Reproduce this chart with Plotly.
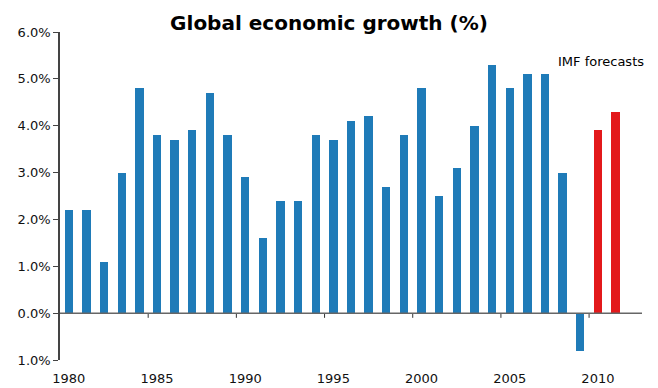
import plotly.graph_objects as go

years = list(range(1980, 2012))
growth = [2.2, 2.2, 1.1, 3.0, 4.8, 3.8, 3.7, 3.9, 4.7, 3.8,
          2.9, 1.6, 2.4, 2.4, 3.8, 3.7, 4.1, 4.2, 2.7, 3.8,
          4.8, 2.5, 3.1, 4.0, 5.3, 4.8, 5.1, 5.1, 3.0, -0.8,
          3.9, 4.3]
forecast_years = [2010, 2011]
y_ticks = [-1, 0, 1, 2, 3, 4, 5, 6]
y_ticktext = ["1.0%", "0.0%", "1.0%", "2.0%", "3.0%", "4.0%", "5.0%", "6.0%"]
x_ticks = [1980, 1985, 1990, 1995, 2000, 2005, 2010]
tick_bounds = [1984.5, 1989.5, 1994.5, 1999.5, 2004.5, 2009.5]

BLUE = "#1f7bb8"
RED = "#e3191b"
colors = [RED if y in forecast_years else BLUE for y in years]

fig = go.Figure(go.Bar(x=years, y=growth, marker_color=colors, width=0.47,
                       marker_line_width=0))

shapes = [dict(type="line", xref="x", yref="y", x0=b, x1=b, y0=0, y1=-0.1,
               line=dict(color="#333", width=1)) for b in tick_bounds]
shapes.append(dict(type="line", xref="paper", yref="y", x0=0, x1=1, y0=0, y1=0,
                   line=dict(color="#666", width=1.5), layer="above"))
fig.update_layout(
    width=658, height=388,
    margin=dict(l=60, r=16, t=32, b=28, autoexpand=False),
    plot_bgcolor="white", paper_bgcolor="white",
    font=dict(family="DejaVu Sans", size=13, color="#111"),
    title=dict(text="<b>Global economic growth (%)</b>", x=0.5, xanchor="center",
               y=0.94, yanchor="middle", font=dict(size=20, color="#000")),
    showlegend=False,
    bargap=0,
    shapes=shapes,
    annotations=[dict(text="IMF forecasts", x=2010.2, y=5.36, xref="x", yref="y",
                      showarrow=False, font=dict(size=13, color="#000"))],
    xaxis=dict(range=[1979.5, 2012.5], tickvals=x_ticks, showline=False,
               showgrid=False, zeroline=False, ticks="", ticklabelstandoff=9,
               automargin=False),
    yaxis=dict(range=[-1, 6], tickvals=y_ticks, ticktext=y_ticktext,
               showline=True, linecolor="#444", linewidth=1.5, ticks="outside",
               ticklen=5, tickcolor="#444", showgrid=False, zeroline=False,
               automargin=False),
)

fig.write_html("out.html")
